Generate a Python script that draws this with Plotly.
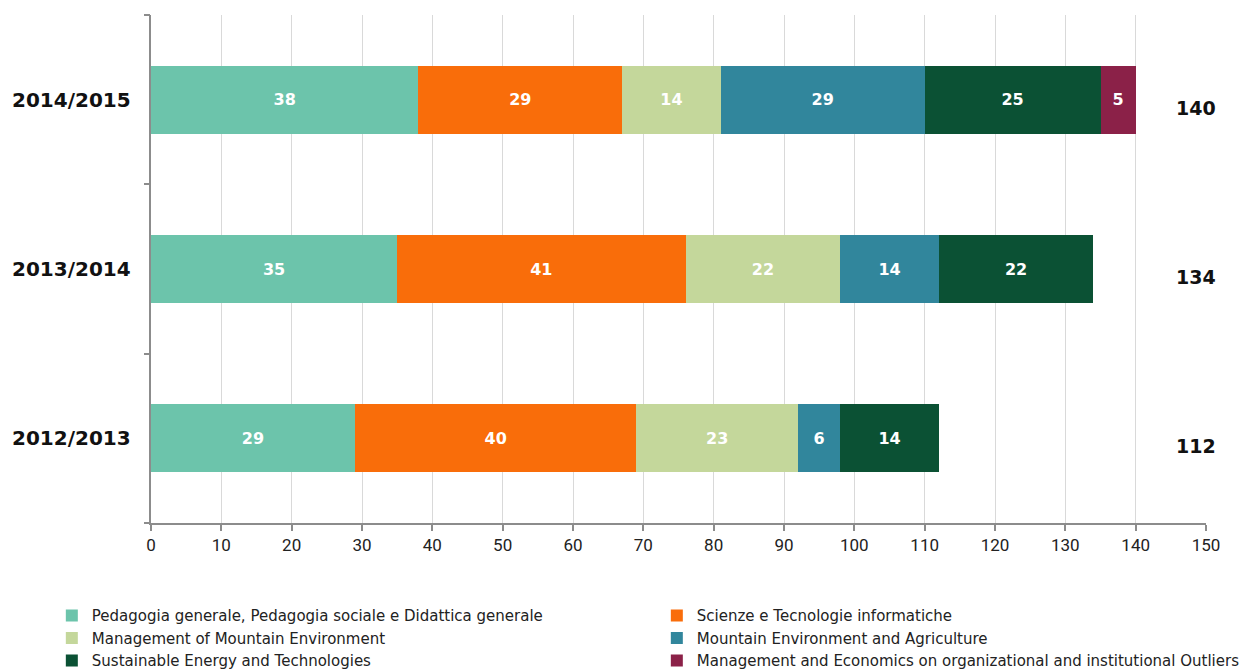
import plotly.graph_objects as go

# Academic years (bottom to top) and enrolment counts per degree programme
years = ["2012/2013", "2013/2014", "2014/2015"]
programmes = [
    "Pedagogia generale, Pedagogia sociale e Didattica generale",
    "Scienze e Tecnologie informatiche",
    "Management of Mountain Environment",
    "Mountain Environment and Agriculture",
    "Sustainable Energy and Technologies",
    "Management and Economics on organizational and institutional Outliers",
]
pedagogia = [29, 35, 38]
scienze_informatiche = [40, 41, 29]
mountain_management = [23, 22, 14]
mountain_agriculture = [6, 14, 29]
sustainable_energy = [14, 22, 25]
outliers = [None, None, 5]
colors = ["#6CC4AB", "#F96D0A", "#C4D79B", "#31869C", "#0B5134", "#8B2148"]

series = [pedagogia, scienze_informatiche, mountain_management,
          mountain_agriculture, sustainable_energy, outliers]
totals = [sum(v for v in col if v) for col in zip(*series)]
ypos = list(range(len(years)))

fig = go.Figure()
for name, vals, col in zip(programmes, series, colors):
    fig.add_trace(go.Bar(
        orientation="h", y=ypos, x=vals, name=name,
        marker=dict(color=col, line=dict(width=0)),
        width=0.4,
        text=[str(v) if v else "" for v in vals],
        textposition="inside", insidetextanchor="middle", textangle=0,
        constraintext="none",
        textfont=dict(family="DejaVu Sans", size=16, color="white", weight="bold"),
        hoverinfo="x+name",
    ))

# Invisible trace on a second y axis carrying the category boundary ticks
fig.add_trace(go.Scatter(x=[None], y=[None], yaxis="y2", showlegend=False, hoverinfo="skip"))

# Year labels at the left and totals on the right
for y, lab, tot in zip(ypos, years, totals):
    fig.add_annotation(x=0, y=y, xref="x", yref="y", text="<b>%s</b>" % lab,
                       showarrow=False, xanchor="right", xshift=-18,
                       font=dict(family="DejaVu Sans", size=20, color="#111"))
    fig.add_annotation(x=148.6, y=y, xref="x", yref="y", text="<b>%d</b>" % tot,
                       showarrow=False, xanchor="center", yshift=-8,
                       bgcolor="white", borderpad=6,
                       font=dict(family="DejaVu Sans", size=19, color="#111"))

fig.update_layout(
    width=1243, height=670,
    barmode="stack",
    plot_bgcolor="white", paper_bgcolor="white",
    margin=dict(l=151, r=37, t=15, b=147, autoexpand=False),
    xaxis=dict(range=[0, 150], tickvals=list(range(0, 151, 10)),
               showgrid=True, gridcolor="#D9D9D9", gridwidth=1,
               showline=True, linecolor="#8C8C8C", linewidth=2,
               ticks="outside", ticklen=6, tickcolor="#8C8C8C", tickwidth=1.5,
               tickfont=dict(family="Roboto", size=17, color="#222"),
               zeroline=False, fixedrange=True),
    yaxis=dict(range=[-0.5, 2.5], showticklabels=False, showgrid=False,
               zeroline=False, showline=True, linecolor="#8C8C8C", linewidth=2,
               ticks="", fixedrange=True),
    yaxis2=dict(range=[-0.5, 2.5], overlaying="y", side="left",
                tickvals=[-0.5, 0.5, 1.5, 2.5], showticklabels=False,
                ticks="outside", ticklen=6, tickcolor="#8C8C8C", tickwidth=1.5,
                showgrid=False, zeroline=False, showline=False),
    legend=dict(orientation="h", x=-0.094, y=-0.15, xanchor="left", yanchor="top",
                entrywidth=560, entrywidthmode="pixels", traceorder="normal",
                font=dict(family="DejaVu Sans", size=15, color="#222"),
                itemwidth=30, tracegroupgap=0),
    showlegend=True,
)

fig.write_html("out.html")
